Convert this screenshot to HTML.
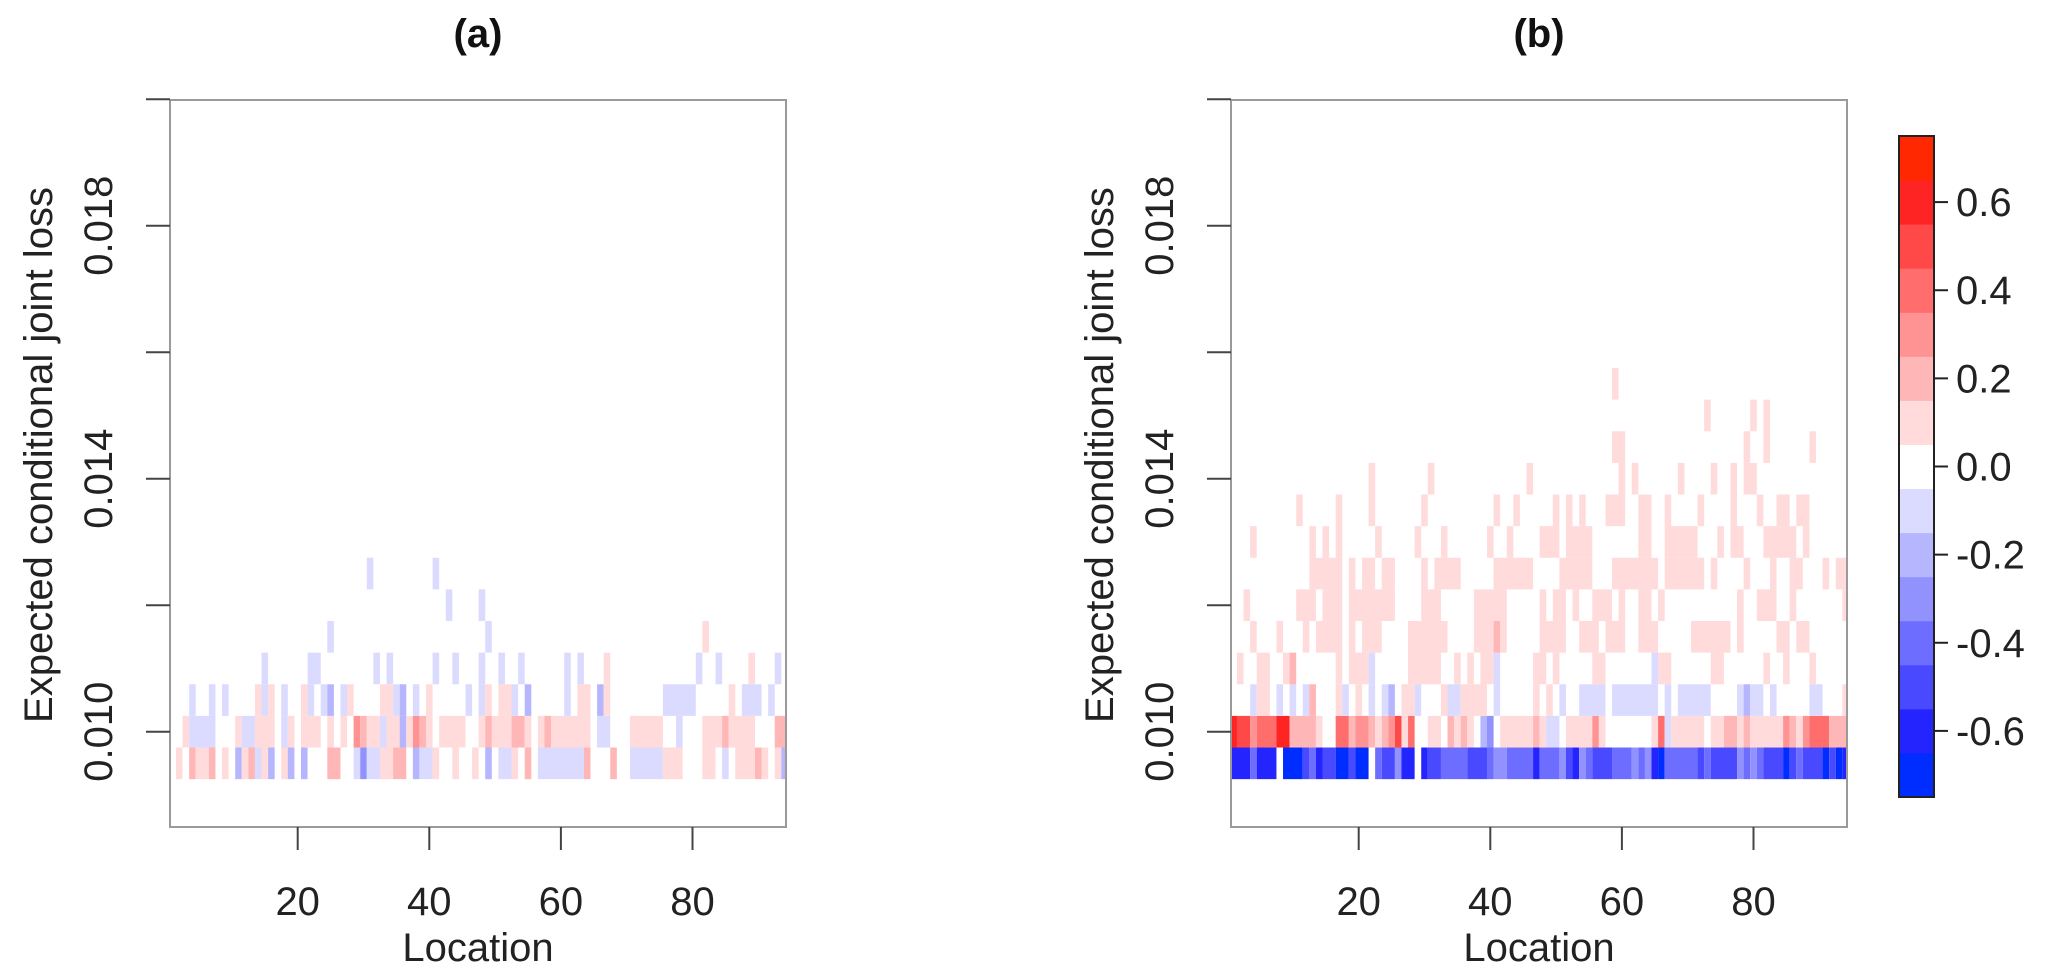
<!DOCTYPE html>
<html><head><meta charset="utf-8"><style>
html,body{margin:0;padding:0;background:#fff;}
svg{display:block;font-family:"Liberation Sans",Arial,sans-serif;}
</style></head><body>
<svg id="chart" width="2067" height="975" viewBox="0 0 2067 975"></svg>
<script>
// ---- data ----
const rowValues = [0.0095,0.010,0.0105,0.011,0.0115,0.012,0.0125,0.013,0.0135,0.014,0.0145,0.015,0.0155];
const yTicks = [0.010,0.012,0.014,0.016,0.018,0.020];
const yTickLabels = ["0.010","","0.014","","0.018",""];
const xTicks = [20,40,60,80];
const xTickLabels = ["20","40","60","80"];
const colorbarTicks = [0.6,0.4,0.2,0.0,-0.2,-0.4,-0.6];
const colorbarLabels = ["0.6","0.4","0.2","0.0","-0.2","-0.4","-0.6"];
// runs: [rowValue, fromLocation, toLocation, value]
const panelARuns = [
[0.0095,2,2,0.1],[0.0095,4,4,0.2],[0.0095,5,6,0.1],[0.0095,7,7,0.2],[0.0095,9,9,0.1],[0.0095,11,11,-0.2],[0.0095,12,12,0.1],[0.0095,13,13,0.2],[0.0095,14,14,-0.1],[0.0095,15,15,0.1],[0.0095,16,16,-0.2],[0.0095,18,18,0.1],[0.0095,19,19,-0.2],[0.0095,21,21,-0.2],[0.0095,25,26,0.2],[0.0095,29,29,-0.1],[0.0095,30,30,-0.3],[0.0095,31,32,-0.1],[0.0095,33,34,0.1],[0.0095,35,36,0.2],[0.0095,38,38,-0.2],[0.0095,39,40,-0.1],[0.0095,41,41,0.1],[0.0095,44,44,0.1],[0.0095,47,47,0.1],[0.0095,49,49,-0.2],[0.0095,51,52,-0.1],[0.0095,53,53,0.1],[0.0095,55,55,0.2],[0.0095,57,63,-0.1],[0.0095,64,64,0.2],[0.0095,68,68,0.2],[0.0095,71,75,-0.1],[0.0095,76,78,0.1],[0.0095,82,83,0.1],[0.0095,85,85,-0.1],[0.0095,87,89,0.1],[0.0095,90,90,0.2],[0.0095,91,91,0.1],[0.0095,93,93,0.1],[0.0095,94,94,-0.2],
[0.010,3,3,0.1],[0.010,4,7,-0.1],[0.010,11,11,0.1],[0.010,12,13,-0.1],[0.010,14,16,0.1],[0.010,18,18,-0.1],[0.010,19,19,0.1],[0.010,21,23,0.1],[0.010,25,25,0.1],[0.010,27,27,0.1],[0.010,29,29,0.3],[0.010,30,30,0.2],[0.010,31,32,0.1],[0.010,33,33,-0.1],[0.010,34,35,0.1],[0.010,36,36,-0.2],[0.010,37,37,0.1],[0.010,38,38,0.3],[0.010,39,39,0.2],[0.010,40,40,0.1],[0.010,42,45,0.1],[0.010,48,48,0.1],[0.010,49,49,0.2],[0.010,50,52,0.1],[0.010,53,54,0.2],[0.010,55,55,0.1],[0.010,57,57,0.1],[0.010,58,58,0.2],[0.010,59,64,0.1],[0.010,66,67,-0.1],[0.010,71,75,0.1],[0.010,78,78,-0.1],[0.010,82,84,0.1],[0.010,85,85,0.2],[0.010,86,89,0.1],[0.010,93,94,0.2],
[0.0105,4,4,-0.1],[0.0105,7,7,-0.1],[0.0105,9,9,-0.1],[0.0105,14,14,0.1],[0.0105,15,15,-0.1],[0.0105,16,16,0.1],[0.0105,18,18,-0.1],[0.0105,21,21,0.1],[0.0105,22,22,-0.1],[0.0105,24,24,-0.1],[0.0105,25,25,-0.2],[0.0105,27,27,-0.1],[0.0105,28,28,0.1],[0.0105,33,34,0.1],[0.0105,35,35,-0.1],[0.0105,36,36,-0.2],[0.0105,38,38,-0.1],[0.0105,40,40,0.1],[0.0105,46,46,-0.1],[0.0105,48,48,-0.1],[0.0105,49,49,0.1],[0.0105,51,52,0.1],[0.0105,53,53,-0.1],[0.0105,55,55,-0.2],[0.0105,61,61,-0.1],[0.0105,63,64,0.1],[0.0105,66,66,-0.2],[0.0105,67,67,0.1],[0.0105,76,80,-0.1],[0.0105,86,86,0.1],[0.0105,88,90,-0.1],[0.0105,92,92,-0.1],
[0.011,15,15,-0.1],[0.011,22,23,-0.1],[0.011,32,32,-0.1],[0.011,34,34,-0.1],[0.011,41,41,-0.1],[0.011,44,44,-0.1],[0.011,48,48,-0.1],[0.011,51,51,-0.1],[0.011,54,54,-0.1],[0.011,61,61,-0.1],[0.011,63,63,-0.1],[0.011,67,67,0.1],[0.011,81,81,-0.1],[0.011,84,84,-0.1],[0.011,89,89,0.1],[0.011,93,93,-0.1],
[0.0115,25,25,-0.1],[0.0115,49,49,-0.1],[0.0115,82,82,0.1],
[0.012,43,43,-0.1],[0.012,48,48,-0.1],
[0.0125,31,31,-0.1],[0.0125,41,41,-0.1]
];
const panelBRuns = [
[0.0095,1,3,-0.6],[0.0095,4,4,-0.4],[0.0095,5,7,-0.6],[0.0095,9,11,-0.7],[0.0095,12,12,-0.5],[0.0095,13,13,-0.4],[0.0095,14,14,-0.6],[0.0095,15,16,-0.5],[0.0095,17,18,-0.7],[0.0095,19,19,-0.5],[0.0095,20,21,-0.7],[0.0095,23,23,-0.4],[0.0095,24,25,-0.5],[0.0095,26,26,-0.3],[0.0095,27,28,-0.6],[0.0095,30,30,-0.6],[0.0095,31,32,-0.5],[0.0095,33,36,-0.4],[0.0095,37,39,-0.5],[0.0095,40,40,-0.4],[0.0095,41,42,-0.3],[0.0095,43,46,-0.4],[0.0095,47,47,-0.6],[0.0095,48,50,-0.4],[0.0095,51,51,-0.3],[0.0095,52,52,-0.5],[0.0095,53,53,-0.6],[0.0095,54,54,-0.3],[0.0095,55,55,-0.4],[0.0095,56,58,-0.5],[0.0095,59,61,-0.4],[0.0095,62,62,-0.3],[0.0095,63,63,-0.4],[0.0095,64,64,-0.3],[0.0095,65,65,-0.6],[0.0095,66,66,-0.7],[0.0095,67,71,-0.4],[0.0095,72,72,-0.5],[0.0095,73,73,-0.4],[0.0095,74,77,-0.5],[0.0095,78,78,-0.3],[0.0095,79,79,-0.4],[0.0095,80,80,-0.3],[0.0095,81,81,-0.4],[0.0095,82,84,-0.5],[0.0095,85,85,-0.7],[0.0095,86,86,-0.5],[0.0095,87,87,-0.4],[0.0095,88,90,-0.5],[0.0095,91,91,-0.7],[0.0095,92,92,-0.5],[0.0095,93,93,-0.7],[0.0095,94,94,-0.6],
[0.010,1,1,0.6],[0.010,2,3,0.5],[0.010,4,4,0.3],[0.010,5,7,0.4],[0.010,8,9,0.6],[0.010,10,13,0.2],[0.010,14,14,0.1],[0.010,17,18,0.4],[0.010,19,19,0.2],[0.010,20,21,0.3],[0.010,22,22,0.2],[0.010,23,23,0.1],[0.010,24,24,0.2],[0.010,25,25,0.3],[0.010,26,26,0.5],[0.010,27,27,0.1],[0.010,28,28,0.4],[0.010,31,32,0.1],[0.010,34,34,0.2],[0.010,35,35,0.1],[0.010,36,36,0.2],[0.010,37,37,0.1],[0.010,39,39,-0.2],[0.010,40,40,-0.3],[0.010,42,46,0.1],[0.010,47,47,0.2],[0.010,48,48,0.1],[0.010,49,50,-0.1],[0.010,52,55,0.1],[0.010,56,56,0.3],[0.010,57,57,0.1],[0.010,65,65,0.1],[0.010,66,66,0.4],[0.010,67,67,-0.1],[0.010,68,72,0.1],[0.010,74,75,0.1],[0.010,76,77,0.2],[0.010,78,78,0.1],[0.010,79,79,0.2],[0.010,80,84,0.1],[0.010,85,85,0.3],[0.010,86,86,0.2],[0.010,87,87,0.1],[0.010,88,88,0.3],[0.010,89,91,0.4],[0.010,92,94,0.2],
[0.0105,4,4,-0.1],[0.0105,5,6,0.1],[0.0105,8,8,-0.1],[0.0105,10,10,-0.1],[0.0105,12,12,-0.1],[0.0105,13,13,0.2],[0.0105,17,17,0.1],[0.0105,18,18,-0.1],[0.0105,20,20,0.1],[0.0105,22,22,-0.1],[0.0105,24,24,-0.1],[0.0105,25,25,-0.2],[0.0105,27,28,0.1],[0.0105,29,29,-0.1],[0.0105,33,33,0.1],[0.0105,34,35,-0.1],[0.0105,36,39,0.1],[0.0105,41,41,-0.1],[0.0105,47,47,0.1],[0.0105,49,49,0.1],[0.0105,51,51,-0.1],[0.0105,54,57,-0.1],[0.0105,59,65,-0.1],[0.0105,67,67,-0.1],[0.0105,69,73,-0.1],[0.0105,78,78,-0.1],[0.0105,79,79,-0.2],[0.0105,80,81,-0.1],[0.0105,83,83,-0.1],[0.0105,89,90,-0.1],[0.0105,94,94,0.1],
[0.011,2,2,0.1],[0.011,5,6,0.1],[0.011,9,9,0.1],[0.011,10,10,0.2],[0.011,17,17,0.1],[0.011,19,21,0.1],[0.011,22,22,-0.1],[0.011,28,32,0.1],[0.011,35,35,0.1],[0.011,37,37,0.1],[0.011,39,40,0.1],[0.011,41,41,-0.1],[0.011,47,48,0.1],[0.011,50,50,0.1],[0.011,56,57,0.1],[0.011,65,65,-0.1],[0.011,66,67,0.1],[0.011,74,75,0.1],[0.011,82,82,0.1],[0.011,85,85,0.1],[0.011,89,89,0.1],
[0.0115,4,4,0.1],[0.0115,8,8,0.1],[0.0115,12,12,0.1],[0.0115,14,17,0.1],[0.0115,19,19,0.1],[0.0115,21,23,0.1],[0.0115,28,33,0.1],[0.0115,38,40,0.1],[0.0115,41,41,0.2],[0.0115,42,42,0.1],[0.0115,48,51,0.1],[0.0115,54,56,0.1],[0.0115,58,60,0.1],[0.0115,63,65,0.1],[0.0115,71,76,0.1],[0.0115,78,78,0.1],[0.0115,84,85,0.1],[0.0115,87,88,0.1],
[0.012,3,3,0.1],[0.012,11,13,0.1],[0.012,15,17,0.1],[0.012,19,25,0.1],[0.012,30,32,0.1],[0.012,38,42,0.1],[0.012,48,48,0.1],[0.012,50,51,0.1],[0.012,53,53,0.1],[0.012,56,58,0.1],[0.012,60,60,0.1],[0.012,63,64,0.1],[0.012,66,66,0.1],[0.012,78,78,0.1],[0.012,81,83,0.1],[0.012,86,86,0.1],[0.012,94,94,0.1],
[0.0125,13,17,0.1],[0.0125,19,19,0.1],[0.0125,21,22,0.1],[0.0125,24,25,0.1],[0.0125,30,30,0.1],[0.0125,32,35,0.1],[0.0125,41,46,0.1],[0.0125,51,55,0.1],[0.0125,59,65,0.1],[0.0125,67,72,0.1],[0.0125,74,74,0.1],[0.0125,79,79,0.1],[0.0125,83,83,0.1],[0.0125,86,87,0.1],[0.0125,91,91,0.1],[0.0125,93,94,0.1],
[0.013,4,4,0.1],[0.013,13,13,0.1],[0.013,15,15,0.1],[0.013,17,17,0.1],[0.013,23,23,0.1],[0.013,29,29,0.1],[0.013,33,33,0.1],[0.013,40,40,0.1],[0.013,43,43,0.1],[0.013,48,50,0.1],[0.013,52,55,0.1],[0.013,63,64,0.1],[0.013,67,71,0.1],[0.013,75,75,0.1],[0.013,77,78,0.1],[0.013,82,86,0.1],[0.013,88,88,0.1],
[0.0135,11,11,0.1],[0.0135,17,17,0.1],[0.0135,22,22,0.1],[0.0135,30,30,0.1],[0.0135,41,41,0.1],[0.0135,44,44,0.1],[0.0135,50,50,0.1],[0.0135,52,52,0.1],[0.0135,54,54,0.1],[0.0135,58,60,0.1],[0.0135,63,64,0.1],[0.0135,67,67,0.1],[0.0135,72,72,0.1],[0.0135,77,77,0.1],[0.0135,81,81,0.1],[0.0135,84,85,0.1],[0.0135,87,88,0.1],
[0.014,22,22,0.1],[0.014,31,31,0.1],[0.014,46,46,0.1],[0.014,60,60,0.1],[0.014,62,62,0.1],[0.014,69,69,0.1],[0.014,74,74,0.1],[0.014,77,77,0.1],[0.014,79,80,0.1],
[0.0145,59,60,0.1],[0.0145,79,79,0.1],[0.0145,82,82,0.1],[0.0145,89,89,0.1],
[0.015,73,73,0.1],[0.015,80,80,0.1],[0.015,82,82,0.1],
[0.0155,59,59,0.1]
];

// ---- layout ----
const NS = "http://www.w3.org/2000/svg";
const svg = document.getElementById("chart");
const PLOT = {top:100, bottom:827, width:616};
const panels = [
  {id:"a", left:170, title:"(a)", runs:panelARuns},
  {id:"b", left:1231, title:"(b)", runs:panelBRuns}
];
const CB = {left:1899, right:1934, top:136, bottom:797, min:-0.75, max:0.75};

function yScale(v){ return 731.7 - (v - 0.010) * 63250; }
function xScaleFor(left){ return loc => left + 127.7 + (loc - 20) * 6.58; }
function mk(tag, attrs, parent){
  const e = document.createElementNS(NS, tag);
  for (const k in attrs) e.setAttribute(k, attrs[k]);
  (parent || svg).appendChild(e);
  return e;
}
function colorFor(v){
  const k = Math.max(-7, Math.min(7, Math.round(v / 0.1)));
  if (k === 0) return "rgb(255,255,255)";
  if (k > 0){
    const g = Math.round(255 * (1 - k / 7));
    return k === 7 ? "rgb(255,40,0)" : `rgb(255,${g},${g})`;
  }
  const a = -k;
  const rg = Math.round(255 * (1 - a / 7));
  return a === 7 ? "rgb(0,45,255)" : `rgb(${rg},${rg},255)`;
}

const defs = mk("defs", {});
panels.forEach(p => {
  const cp = mk("clipPath", {id:"clip-" + p.id}, defs);
  mk("rect", {x:p.left, y:PLOT.top, width:PLOT.width, height:PLOT.bottom - PLOT.top}, cp);
});

panels.forEach(p => {
  const xs = xScaleFor(p.left);
  const g = mk("g", {"clip-path":"url(#clip-" + p.id + ")"});
  
  
  p.runs.forEach(r => {
    const [rv, from, to, val] = r;
    const x0 = xs(from - 0.5), x1 = xs(to + 0.5);
    const y0 = yScale(rv + 0.00025), y1 = yScale(rv - 0.00025);
    const rect = mk("rect", {x:x0.toFixed(2), y:y0.toFixed(2), width:(x1 - x0).toFixed(2), height:(y1 - y0).toFixed(2), fill:colorFor(val)}, g);
    
    
  });

  const box = mk("rect", {x:p.left, y:PLOT.top, width:PLOT.width, height:PLOT.bottom - PLOT.top, fill:"none", stroke:"#9a9a9a", "stroke-width":2});
  
  

  yTicks.forEach((t, i) => {
    const y = yScale(t);
    const tk = mk("line", {x1:p.left - 24, x2:p.left, y1:y, y2:y, stroke:"#444", "stroke-width":2});
    
    
    if (yTickLabels[i]){
      const bx = p.left - 58;
      const tx = mk("text", {x:bx, y:y, transform:`rotate(-90 ${bx} ${y})`, "text-anchor":"middle", "font-size":40, fill:"#222"});
      tx.textContent = yTickLabels[i];
      
      
    }
  });
  xTicks.forEach((t, i) => {
    const x = xs(t);
    const tk = mk("line", {x1:x, x2:x, y1:PLOT.bottom, y2:PLOT.bottom + 23, stroke:"#444", "stroke-width":2});
    
    
    const tx = mk("text", {x:x, y:915, "text-anchor":"middle", "font-size":40, fill:"#222"});
    tx.textContent = xTickLabels[i];
    
    
  });
  const cx = p.left + PLOT.width / 2;
  const xt = mk("text", {x:cx, y:961, "text-anchor":"middle", "font-size":40, fill:"#222"});
  xt.textContent = "Location";
  
  
  const lx = p.left - 118, ly = 455;
  const yt = mk("text", {x:lx, y:ly, transform:`rotate(-90 ${lx} ${ly})`, "text-anchor":"middle", "font-size":40, fill:"#222"});
  yt.textContent = "Expected conditional joint loss";
  
  
  const tt = mk("text", {x:cx, y:47, "text-anchor":"middle", "font-size":40, "font-weight":"bold", fill:"#111"});
  tt.textContent = p.title;
  
  
});

// colorbar
const cbScale = v => CB.bottom - (v - CB.min) / (CB.max - CB.min) * (CB.bottom - CB.top);
const cbG = mk("g", {});


for (let k = -7; k <= 7; k++){
  const lo = k * 0.1 - 0.05, hi = k * 0.1 + 0.05;
  const r = mk("rect", {x:CB.left, y:cbScale(hi), width:CB.right - CB.left, height:cbScale(lo) - cbScale(hi) + 0.5, fill:colorFor(k * 0.1)}, cbG);
  
  
}
const cbFrame = mk("rect", {x:CB.left, y:CB.top, width:CB.right - CB.left, height:CB.bottom - CB.top, fill:"none", stroke:"#222", "stroke-width":2}, cbG);


colorbarTicks.forEach((t, i) => {
  const y = cbScale(t);
  const tk = mk("line", {x1:CB.right, x2:CB.right + 14, y1:y, y2:y, stroke:"#222", "stroke-width":2}, cbG);
  
  
  const tx = mk("text", {x:CB.right + 22, y:y + 14, "font-size":40, fill:"#222"}, cbG);
  tx.textContent = colorbarLabels[i];
  
  
});
</script>
</body></html>
